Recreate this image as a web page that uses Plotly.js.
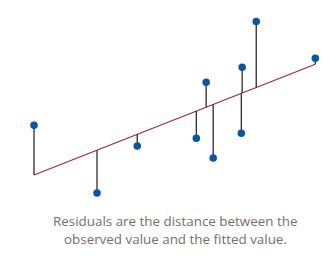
<!DOCTYPE html>
<html>
<head>
<meta charset="utf-8">
<script src="https://cdn.plot.ly/plotly-3.0.1.min.js"></script>
<style>
html,body{margin:0;padding:0;background:#fff;}
#chart{width:335px;height:256px;}
</style>
</head>
<body>
<div id="chart"></div>
<script>
// Observed points
var obsX = [0, 2.24, 3.67, 5.77, 6.12, 6.37, 7.37, 7.40, 7.90, 10];
var obsY = [4.5, -1.62, 2.61, 3.33, 8.38, 1.53, 3.78, 9.73, 13.87, 10.54];
// Fitted values at each observed x
var fitY = [0, 2.24, 3.67, 5.77, 6.12, 6.37, 7.37, 7.40, 7.90, 10];
// Fitted line end points
var lineX = [0, 10];
var lineY = [0, 10];
var captionLines = ["Residuals are the distance between the", "observed value and the fitted value."];

var resX = [], resY = [];
for (var i = 0; i < obsX.length; i++) {
  resX.push(obsX[i], obsX[i], null);
  resY.push(obsY[i], fitY[i], null);
}

var traces = [
  {x: lineX, y: lineY, mode: 'lines', line: {color: '#a3282e', width: 1.2}, hoverinfo: 'skip'},
  {x: resX, y: resY, mode: 'lines', line: {color: '#2b2b2b', width: 1.3}, hoverinfo: 'skip'},
  {x: obsX, y: obsY, mode: 'markers', marker: {color: '#0a56a5', size: 7.5}, hoverinfo: 'skip'}
];

var capY = [220.5, 238.5];
var annotations = captionLines.map(function (t, k) {
  return {
    text: t, xref: 'paper', yref: 'paper', x: 0.523, y: 1 - capY[k] / 256,
    xanchor: 'center', yanchor: 'middle', showarrow: false, align: 'center',
    font: {family: 'Open Sans, sans-serif', size: 13.4, color: '#776e67'}
  };
});

var layout = {
  width: 335, height: 256,
  margin: {l: 0, r: 0, t: 0, b: 0},
  paper_bgcolor: '#fff', plot_bgcolor: '#fff',
  showlegend: false,
  xaxis: {range: [-1.209, 10.70], visible: false, fixedrange: true},
  yaxis: {range: [-7.32, 15.81], visible: false, fixedrange: true},
  annotations: annotations
};

Plotly.newPlot('chart', traces, layout, {staticPlot: true, displayModeBar: false});
</script>
</body>
</html>
